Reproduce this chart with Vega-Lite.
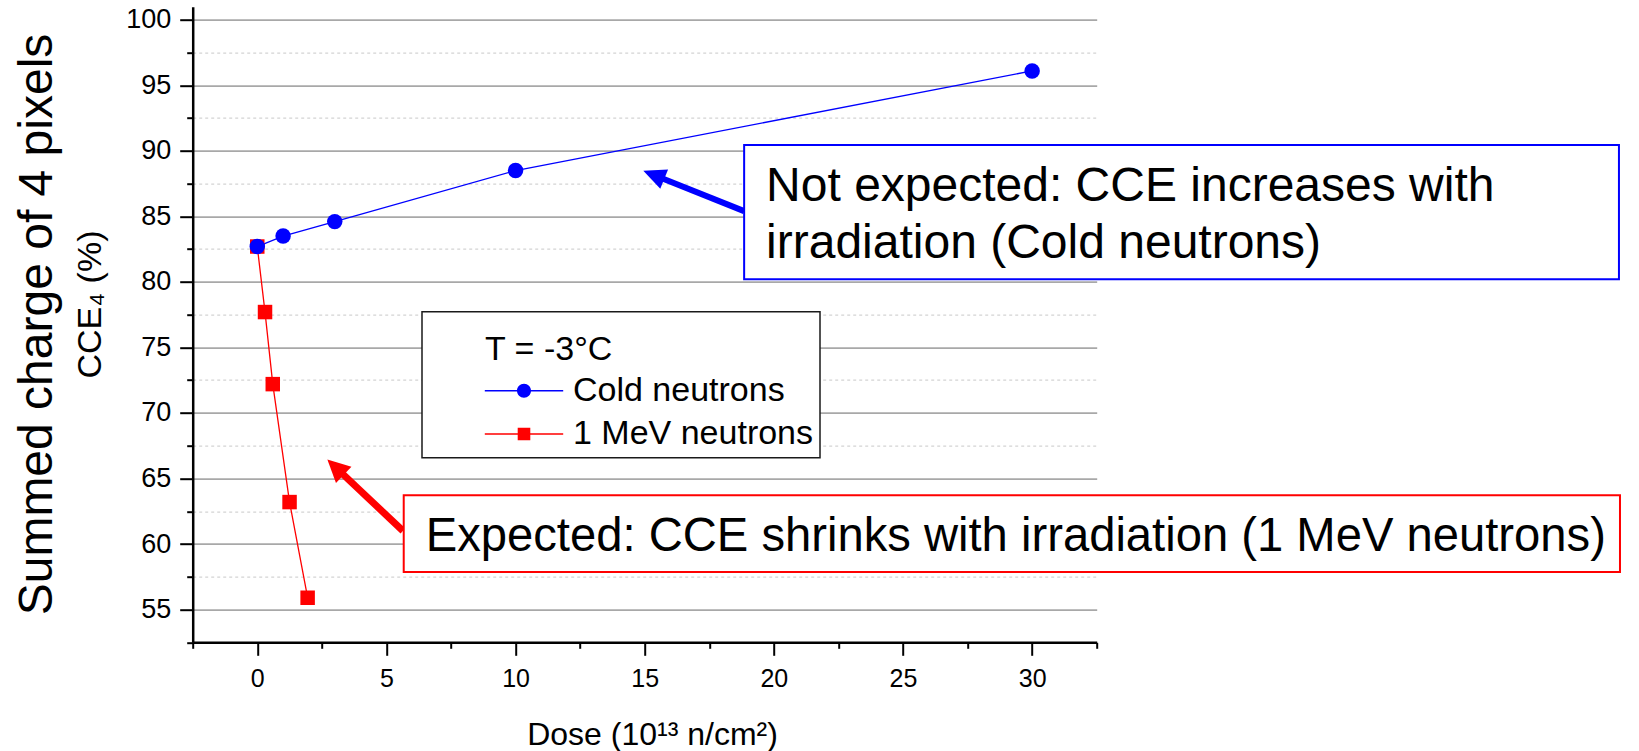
{
  "$schema": "https://vega.github.io/schema/vega-lite/v6.json",
  "autosize": {"type": "none"},
  "padding": {"left": 192.7, "top": 6.7, "right": 542.3, "bottom": 108.7},
  "width": 904,
  "height": 635.6,
  "background": "white",
  "title": {
    "text": "Summed charge of 4 pixels",
    "orient": "left",
    "anchor": "middle",
    "frame": "group",
    "font": "Liberation Sans",
    "fontSize": 48,
    "fontWeight": "normal",
    "color": "black",
    "offset": 10.7
  },
  "config": {"view": {"stroke": null}, "font": "Liberation Sans"},
  "resolve": {"axis": {"y": "independent"}},
  "datasets": {
    "measurements": [
      {"series": "1 MeV neutrons", "dose": 0, "cce": 82.7},
      {"series": "1 MeV neutrons", "dose": 0.3, "cce": 77.7},
      {"series": "1 MeV neutrons", "dose": 0.6, "cce": 72.2},
      {"series": "1 MeV neutrons", "dose": 1.25, "cce": 63.2},
      {"series": "1 MeV neutrons", "dose": 1.95, "cce": 55.9},
      {"series": "Cold neutrons", "dose": 0, "cce": 82.7},
      {"series": "Cold neutrons", "dose": 1, "cce": 83.5},
      {"series": "Cold neutrons", "dose": 3, "cce": 84.6},
      {"series": "Cold neutrons", "dose": 10, "cce": 88.5},
      {"series": "Cold neutrons", "dose": 30, "cce": 96.1}
    ]
  },
  "layer": [
    {
      "data": {"name": "measurements"},
      "transform": [{"filter": "false"}],
      "mark": {"type": "point", "filled": true, "opacity": 1, "size": 196},
      "encoding": {
        "x": {"field": "dose", "type": "quantitative", "scale": {"domain": [-2.5, 32.5], "nice": false, "zero": false}},
        "y": {"field": "cce", "type": "quantitative", "scale": {"domain": [52.5, 101], "nice": false, "zero": false}, "axis": null},
        "color": {"field": "series", "type": "nominal"},
        "shape": {
          "field": "series", "type": "nominal",
          "scale": {
            "domain": ["Cold neutrons", "1 MeV neutrons"],
            "range": [
              "M -5.6 -0.11 H -0.95 V 0.11 H -5.6 Z M 0.95 -0.11 H 5.6 V 0.11 H 0.95 Z M -1 0 A 1 1 0 1 1 1 0 A 1 1 0 1 1 -1 0 Z",
              "M -5.6 -0.11 H -0.9 V 0.11 H -5.6 Z M 0.9 -0.11 H 5.6 V 0.11 H 0.9 Z M -0.9 -0.9 H 0.9 V 0.9 H -0.9 Z"
            ]
          },
          "legend": null
        }
      }
    },
    {
      "data": {"name": "measurements"},
      "mark": {"type": "line", "strokeWidth": 1.3},
      "encoding": {
        "x": {
          "field": "dose", "type": "quantitative",
          "scale": {"domain": [-2.5, 32.5], "nice": false, "zero": false},
          "axis": {
            "title": "Dose (10¹³ n/cm²)",
            "values": [-2.5, 0, 2.5, 5, 7.5, 10, 12.5, 15, 17.5, 20, 22.5, 25, 27.5, 30, 32.5],
            "labelExpr": "datum.value % 5 === 0 ? datum.label : ''",
            "grid": false,
            "domainColor": "black", "domainWidth": 2.5,
            "tickColor": "black", "tickWidth": 2,
            "tickSize": {"condition": {"test": "datum.value % 5 === 0", "value": 13}, "value": 6},
            "labelFont": "Liberation Sans", "labelFontSize": 25, "labelColor": "black", "labelPadding": 11,
            "titleFont": "Liberation Sans", "titleFontSize": 32, "titleFontWeight": "normal", "titleColor": "black",
            "titleX": 459.3, "titleY": 102, "titleBaseline": "alphabetic", "titleAlign": "center"
          }
        },
        "y": {
          "field": "cce", "type": "quantitative",
          "scale": {"domain": [52.5, 101], "nice": false, "zero": false},
          "axis": {
            "orient": "left",
            "title": "CCE₄ (%)",
            "values": [55, 60, 65, 70, 75, 80, 85, 90, 95, 100],
            "grid": true,
            "gridColor": "#a8a8a8", "gridWidth": 1.8,
            "domainColor": "black", "domainWidth": 2.5,
            "tickColor": "black", "tickWidth": 2, "tickSize": 13,
            "labelFont": "Liberation Sans", "labelFontSize": 27, "labelColor": "black", "labelPadding": 9,
            "titleFont": "Liberation Sans", "titleFontSize": 34, "titleFontWeight": "normal", "titleColor": "black",
            "titleX": -92.7, "titleY": 297.3, "titleBaseline": "alphabetic", "titleAlign": "center", "titleAngle": -90
          }
        },
        "color": {
          "field": "series", "type": "nominal",
          "scale": {"domain": ["Cold neutrons", "1 MeV neutrons"], "range": ["#0000ff", "#ff0000"]},
          "legend": {
            "title": "T = -3°C",
            "orient": "none",
            "legendX": 229.3,
            "legendY": 305,
            "padding": 6,
            "strokeColor": "#1a1a1a",
            "fillColor": "white",
            "titleFont": "Liberation Sans", "titleFontSize": 34, "titleFontWeight": "normal", "titleColor": "black",
            "titlePadding": 22,
            "labelFont": "Liberation Sans", "labelFontSize": 34, "labelColor": "black",
            "labelLimit": 0,
            "labelExpr": "datum.label + '\u00a0\u00a0'",
            "symbolSize": 196, "symbolOffset": 79, "labelOffset": 32, "rowPadding": 9.3,
            "symbolOpacity": 1, "symbolStrokeWidth": 0,
            "encode": {
              "legend": {"update": {"strokeWidth": {"value": 1.5}}},
              "title": {"update": {"dx": {"value": 57}, "dy": {"value": 14.8}}}
            }
          }
        },
        "detail": {"field": "series"}
      }
    },
    {
      "data": {"name": "measurements"},
      "transform": [{"filter": "datum.series === '1 MeV neutrons'"}],
      "mark": {"type": "point", "shape": "square", "filled": true, "opacity": 1, "size": 210},
      "encoding": {
        "x": {"field": "dose", "type": "quantitative", "scale": {"domain": [-2.5, 32.5], "nice": false, "zero": false}},
        "y": {
          "field": "cce", "type": "quantitative",
          "scale": {"domain": [52.5, 101], "nice": false, "zero": false},
          "axis": {
            "orient": "left",
            "title": null,
            "values": [52.5, 57.5, 62.5, 67.5, 72.5, 77.5, 82.5, 87.5, 92.5, 97.5],
            "labels": false,
            "domain": false,
            "grid": true,
            "gridColor": "#d4d4d4", "gridDash": [3, 3], "gridWidth": 1.2,
            "tickColor": "black", "tickWidth": 2, "tickSize": 6
          }
        },
        "color": {"field": "series", "type": "nominal"}
      }
    },
    {
      "data": {"name": "measurements"},
      "transform": [{"filter": "datum.series === 'Cold neutrons'"}],
      "mark": {"type": "point", "shape": "circle", "filled": true, "opacity": 1, "size": 240},
      "encoding": {
        "x": {"field": "dose", "type": "quantitative", "scale": {"domain": [-2.5, 32.5], "nice": false, "zero": false}},
        "y": {"field": "cce", "type": "quantitative", "scale": {"domain": [52.5, 101], "nice": false, "zero": false}, "axis": null},
        "color": {"field": "series", "type": "nominal"}
      }
    },
    {
      "data": {"values": [{"note": "blue arrow"}]},
      "mark": {"type": "rule", "color": "#0000ff", "strokeWidth": 6},
      "encoding": {
        "x": {"datum": 18.85, "type": "quantitative"},
        "y": {"datum": 85.4, "type": "quantitative", "axis": null},
        "x2": {"datum": 15.35},
        "y2": {"datum": 88.16}
      }
    },
    {
      "data": {"values": [{"note": "blue arrow head"}]},
      "mark": {"type": "point", "shape": "M 1 0 L -1 -0.93 L -1 0.93 Z", "filled": true, "color": "#0000ff", "size": 506, "angle": 201.8, "opacity": 1},
      "encoding": {
        "x": {"datum": 15.35, "type": "quantitative"},
        "y": {"datum": 88.16, "type": "quantitative", "axis": null}
      }
    },
    {
      "data": {"values": [{"note": "red arrow"}]},
      "mark": {"type": "rule", "color": "#ff0000", "strokeWidth": 7},
      "encoding": {
        "x": {"datum": 5.64, "type": "quantitative"},
        "y": {"datum": 61.0, "type": "quantitative", "axis": null},
        "x2": {"datum": 3.03},
        "y2": {"datum": 65.86}
      }
    },
    {
      "data": {"values": [{"note": "red arrow head"}]},
      "mark": {"type": "point", "shape": "M 1 0 L -1 -1 L -1 1 Z", "filled": true, "color": "#ff0000", "size": 506, "angle": 223.4, "opacity": 1},
      "encoding": {
        "x": {"datum": 3.03, "type": "quantitative"},
        "y": {"datum": 65.86, "type": "quantitative", "axis": null}
      }
    },
    {
      "data": {"values": [{"note": "blue box"}]},
      "mark": {"type": "rect", "fill": "white", "stroke": "#0000ff", "strokeWidth": 2},
      "encoding": {
        "x": {"datum": 18.85, "type": "quantitative"},
        "x2": {"datum": 52.72},
        "y": {"datum": 90.44, "type": "quantitative", "axis": null},
        "y2": {"datum": 80.21}
      }
    },
    {
      "data": {"values": [{"note": "red box"}]},
      "mark": {"type": "rect", "fill": "white", "stroke": "#ff0000", "strokeWidth": 2},
      "encoding": {
        "x": {"datum": 5.67, "type": "quantitative"},
        "x2": {"datum": 52.76},
        "y": {"datum": 63.73, "type": "quantitative", "axis": null},
        "y2": {"datum": 57.87}
      }
    },
    {
      "data": {"values": [{"label": "Not expected: CCE increases with\nirradiation (Cold neutrons)"}]},
      "mark": {"type": "text", "align": "left", "baseline": "alphabetic", "font": "Liberation Sans", "fontSize": 48, "color": "black", "lineBreak": "\n", "lineHeight": 57.3},
      "encoding": {
        "x": {"datum": 19.7, "type": "quantitative"},
        "y": {"datum": 86.17, "type": "quantitative", "axis": null},
        "text": {"field": "label"}
      }
    },
    {
      "data": {"values": [{"label": "Expected: CCE shrinks with irradiation (1 MeV neutrons)"}]},
      "mark": {"type": "text", "align": "left", "baseline": "alphabetic", "font": "Liberation Sans", "fontSize": 47.2, "color": "black"},
      "encoding": {
        "x": {"datum": 6.52, "type": "quantitative"},
        "y": {"datum": 59.45, "type": "quantitative", "axis": null},
        "text": {"field": "label"}
      }
    }
  ]
}
